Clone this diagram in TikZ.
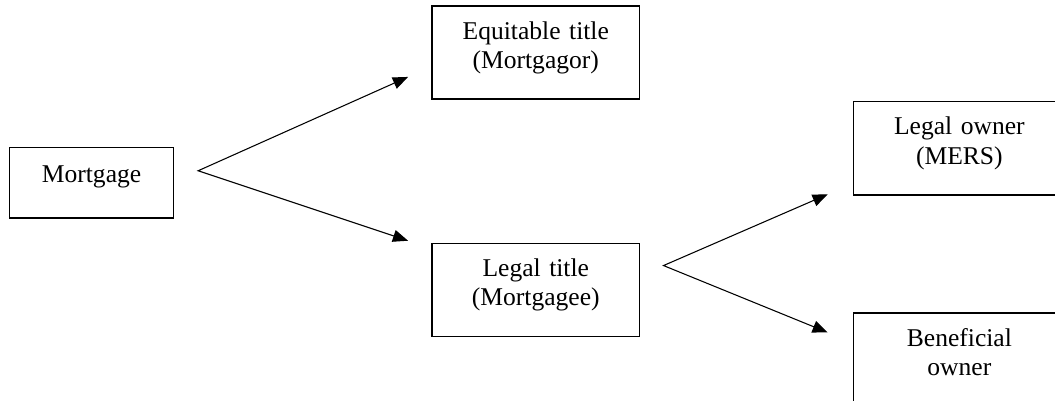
\documentclass[tikz,border=0pt]{standalone}
\usepackage{fontspec}
\setmainfont{Liberation Serif}
\usetikzlibrary{positioning,arrows.meta,calc}

\begin{document}
\begin{tikzpicture}[
  >={Triangle[length=0.25cm,width=0.2cm]},
  every node/.style={font=\fontsize{12}{13.8}\selectfont, align=center},
  block/.style={draw, line width=0.7pt, inner sep=0pt, text width=3.43cm, text height=0.545cm, text depth=0.99cm},
  mblock/.style={draw, line width=0.7pt, inner sep=0pt, text width=2.7cm, text height=0.578cm, text depth=0.578cm},
  arr/.style={<->, line width=0.5pt}
]
  \clip (-0.1485,2.4255) rectangle (17.259,-4.191);
  \node[mblock, anchor=north west] (mort) at (0,0) {Mortgage\hspace*{0.15cm}};
  \node[block, above right=0.776cm and 4.24cm of mort] (equit) {Equitable title\\(Mortgagor)};
  \node[block, below right=0.396cm and 4.24cm of mort] (ltitle) {Legal title\\(Mortgagee)};
  \node[block, text width=3.5cm, above right=0.776cm and 3.50cm of ltitle] (lowner) {Legal owner\\(MERS)};
  \node[block, text width=3.5cm, below=1.93cm of lowner] (benef) {Beneficial\\owner};

  \coordinate (fork1) at ($(mort.east)+(0.396,0.198)$);
  \coordinate (tip1) at ($(equit.south west)+(-0.38,0.38)$);
  \coordinate (tip2) at ($(ltitle.north west)+(-0.38,0.03)$);
  \coordinate (fork2) at ($(ltitle.east)+(0.38,0.40)$);
  \coordinate (tip3) at ($(lowner.south west)+(-0.41,0.02)$);
  \coordinate (tip4) at ($(benef.north west)+(-0.41,-0.33)$);

  \draw[arr] (tip1) -- (fork1) -- (tip2);
  \draw[arr] (tip3) -- (fork2) -- (tip4);
\end{tikzpicture}
\end{document}
